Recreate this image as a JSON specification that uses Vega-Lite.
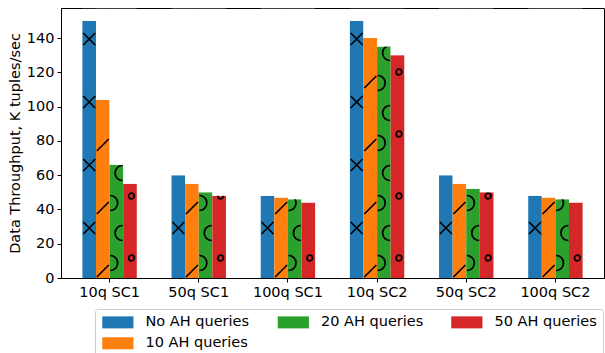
{
  "$schema": "https://vega.github.io/schema/vega-lite/v6.json",
  "width": 543,
  "height": 270,
  "autosize": {"type": "none"},
  "padding": {"left": 61, "top": 8, "right": 1, "bottom": 75},
  "config": {
    "font": "DejaVu Sans",
    "view": {"stroke": "#000", "strokeWidth": 1},
    "axis": {"domainColor": "#000", "tickColor": "#000", "labelColor": "#000", "titleColor": "#000", "grid": false, "labelFontSize": 14.5, "titleFontSize": 14.5, "titleFontWeight": "normal", "tickSize": 4, "labelOverlap": false}
  },
  "data": {
    "values": [
      {"g": "10q SC1", "s": "No AH queries", "v": 150},
      {"g": "10q SC1", "s": "10 AH queries", "v": 104},
      {"g": "10q SC1", "s": "20 AH queries", "v": 66},
      {"g": "10q SC1", "s": "50 AH queries", "v": 55},
      {"g": "50q SC1", "s": "No AH queries", "v": 60},
      {"g": "50q SC1", "s": "10 AH queries", "v": 55},
      {"g": "50q SC1", "s": "20 AH queries", "v": 50},
      {"g": "50q SC1", "s": "50 AH queries", "v": 48},
      {"g": "100q SC1", "s": "No AH queries", "v": 48},
      {"g": "100q SC1", "s": "10 AH queries", "v": 47},
      {"g": "100q SC1", "s": "20 AH queries", "v": 46},
      {"g": "100q SC1", "s": "50 AH queries", "v": 44},
      {"g": "10q SC2", "s": "No AH queries", "v": 150},
      {"g": "10q SC2", "s": "10 AH queries", "v": 140},
      {"g": "10q SC2", "s": "20 AH queries", "v": 135},
      {"g": "10q SC2", "s": "50 AH queries", "v": 130},
      {"g": "50q SC2", "s": "No AH queries", "v": 60},
      {"g": "50q SC2", "s": "10 AH queries", "v": 55},
      {"g": "50q SC2", "s": "20 AH queries", "v": 52},
      {"g": "50q SC2", "s": "50 AH queries", "v": 50},
      {"g": "100q SC2", "s": "No AH queries", "v": 48},
      {"g": "100q SC2", "s": "10 AH queries", "v": 47},
      {"g": "100q SC2", "s": "20 AH queries", "v": 46},
      {"g": "100q SC2", "s": "50 AH queries", "v": 44}
    ]
  },
  "encoding": {
    "x": {
      "field": "g", "type": "nominal", "sort": null,
      "scale": {"paddingInner": 0.39, "paddingOuter": 0.24},
      "axis": {"title": null, "labelAngle": 0, "labelPadding": 3}
    },
    "xOffset": {
      "field": "s", "type": "nominal",
      "sort": ["No AH queries", "10 AH queries", "20 AH queries", "50 AH queries"],
      "scale": {"paddingInner": 0, "paddingOuter": 0}
    }
  },
  "layer": [
    {
      "mark": {"type": "bar", "opacity": 1},
      "encoding": {
        "y": {
          "field": "v", "type": "quantitative",
          "scale": {"domain": [0, 157.5], "nice": false},
          "axis": {"title": "Data Throughput, K tuples/sec", "values": [0, 20, 40, 60, 80, 100, 120, 140], "labelPadding": 3, "titlePadding": 4}
        },
        "color": {
          "field": "s", "type": "nominal",
          "scale": {
            "domain": ["No AH queries", "20 AH queries", "50 AH queries", "10 AH queries"],
            "range": ["#1f77b4", "#2ca02c", "#d62728", "#ff7f0e"]
          },
          "legend": {
            "title": null,
            "orient": "none",
            "legendX": 34,
            "legendY": 301,
            "columns": 3,
            "direction": "horizontal",
            "symbolType": "M-1,-1H4.2V1H-1Z",
            "symbolSize": 144,
            "symbolStrokeWidth": 0,
            "symbolOpacity": 1,
            "labelFontSize": 14.5,
            "labelColor": "#000",
            "labelOffset": 30,
            "columnPadding": 26.5,
            "rowPadding": 6,
            "strokeColor": "#cccccc",
            "cornerRadius": 3,
            "padding": 6,
            "fillColor": "#ffffff"
          }
        }
      }
    },
    {
      "mark": {"type": "point", "filled": false, "color": "#000", "strokeWidth": 1.7, "opacity": 1, "size": 400},
      "encoding": {
        "y": {"datum": 0, "type": "quantitative", "scale": {"domain": [0, 157.5], "nice": false}, "axis": {"title": "Data Throughput, K tuples/sec", "values": [0, 20, 40, 60, 80, 100, 120, 140], "labelPadding": 3, "titlePadding": 4}},
        "shape": {
          "field": "s", "type": "nominal", "legend": null,
          "scale": {
            "domain": ["No AH queries", "10 AH queries", "20 AH queries", "50 AH queries"],
            "range": [
              "M-0.6,-5.6L0.6,-4.4M-0.6,-4.4L0.6,-5.6M-0.6,-11.9L0.6,-10.7M-0.6,-10.7L0.6,-11.9M-0.6,-18.2L0.6,-17M-0.6,-17L0.6,-18.2M-0.6,-24.5L0.6,-23.3M-0.6,-23.3L0.6,-24.5",
              "M-0.6,-0.1L0.6,-1.3M-0.6,-6.4L0.6,-7.6M-0.6,-12.7L0.6,-13.9M-0.6,-19L0.6,-20.2M-0.6,-25.3L0.6,-26.5",
              "M-0.62,-2.25A0.75,0.75 0 0 1 -0.62,-0.75M0.62,-5.25A0.75,0.75 0 0 0 0.62,-3.75M-0.62,-8.25A0.75,0.75 0 0 1 -0.62,-6.75M0.62,-11.25A0.75,0.75 0 0 0 0.62,-9.75M-0.62,-14.25A0.75,0.75 0 0 1 -0.62,-12.75M0.62,-17.25A0.75,0.75 0 0 0 0.62,-15.75M-0.62,-20.25A0.75,0.75 0 0 1 -0.62,-18.75M0.62,-23.25A0.75,0.75 0 0 0 0.62,-21.75M-0.62,-26.25A0.75,0.75 0 0 1 -0.62,-24.75",
              "M-0.13,-2A0.28,0.28 0 1 0 0.43,-2A0.28,0.28 0 1 0 -0.13,-2M-0.13,-8.2A0.28,0.28 0 1 0 0.43,-8.2A0.28,0.28 0 1 0 -0.13,-8.2M-0.13,-14.4A0.28,0.28 0 1 0 0.43,-14.4A0.28,0.28 0 1 0 -0.13,-14.4M-0.13,-20.6A0.28,0.28 0 1 0 0.43,-20.6A0.28,0.28 0 1 0 -0.13,-20.6"
            ]
          }
        }
      }
    },
    {
      "mark": {"type": "bar", "color": "#ffffff", "opacity": 1},
      "encoding": {
        "y": {"field": "v", "type": "quantitative", "scale": {"domain": [0, 157.5], "nice": false}, "axis": {"title": "Data Throughput, K tuples/sec", "values": [0, 20, 40, 60, 80, 100, 120, 140], "labelPadding": 3, "titlePadding": 4}},
        "y2": {"datum": 157}
      }
    }
  ]
}
